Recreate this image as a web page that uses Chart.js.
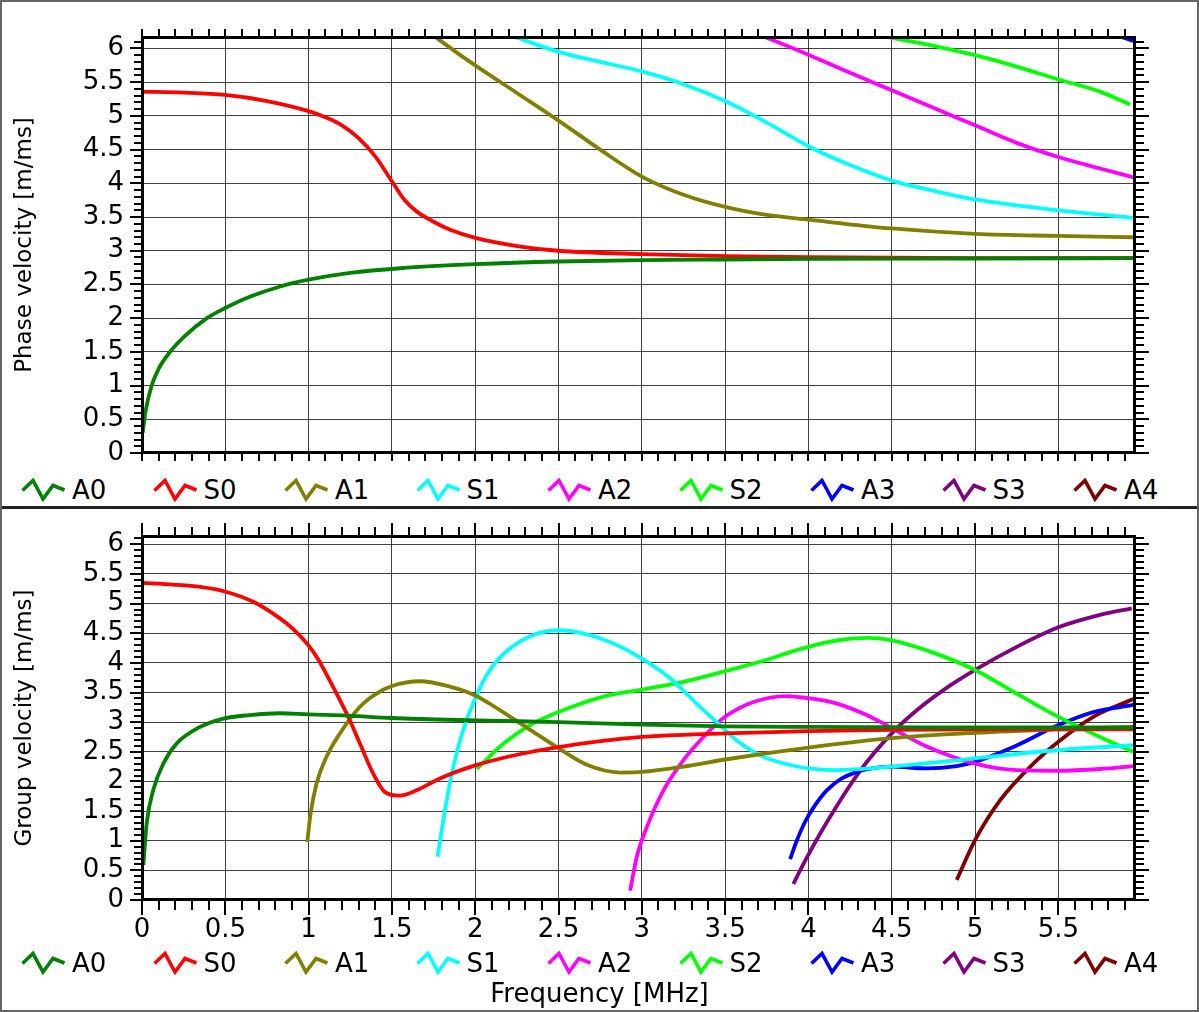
<!DOCTYPE html>
<html>
<head>
<meta charset="utf-8">
<title>Dispersion curves</title>
<script src="https://cdn.jsdelivr.net/npm/chart.js@4.4.1/dist/chart.umd.min.js"></script>
<style>
  html, body { margin: 0; padding: 0; background: #fff; }
  #page {
    position: relative; width: 1199px; height: 1012px; box-sizing: border-box;
    border: 2px solid #666; overflow: hidden; background: #fff;
    font-family: "DejaVu Sans", sans-serif; color: #000;
  }
  canvas { position: absolute; left: 0; display: block; }
  #phaseChart { top: 0; }
  #groupChart { top: 507px; }
  #divider { position: absolute; left: 0; top: 504px; width: 1195px; height: 3px; background: #222; }
  .legend {
    position: absolute; left: 0; width: 1195px; height: 30px; box-sizing: border-box;
    padding-left: 19px; display: flex; align-items: center;
  }
  .legend .item { flex: none; width: 131.5px; display: flex; align-items: center; font-size: 26px; line-height: 30px; }
  .legend svg { flex: none; margin-right: 6px; }
  #phaseLegend { top: 473px; }
  #groupLegend { top: 946px; }
  #freqTitle {
    position: absolute; left: 0; top: 976px; width: 1195px; height: 30px;
    line-height: 30px; text-align: center; font-size: 26px;
  }
</style>
</head>
<body>
<div id="page">
  <canvas id="phaseChart" width="1195" height="470"></canvas>
  <div class="legend" id="phaseLegend"></div>
  <div id="divider"></div>
  <canvas id="groupChart" width="1195" height="440"></canvas>
  <div class="legend" id="groupLegend"></div>
  <div id="freqTitle">Frequency [MHz]</div>
</div>
<script>
// Lamb wave modes and their colours
const modes = ['A0', 'S0', 'A1', 'S1', 'A2', 'S2', 'A3', 'S3', 'A4'];
const modeColors = ['#008000', '#ff0000', '#808000', '#00ffff', '#ff00ff', '#00ff00', '#0000ff', '#800080', '#800000'];

// Axis ranges and labelled ticks
const freqMax = 5.96;
const phaseMax = 6.17;
const groupMax = 6.14;
const freqLabels = ['0', '0.5', '1', '1.5', '2', '2.5', '3', '3.5', '4', '4.5', '5', '5.5'];
const velocityLabels = ['0', '0.5', '1', '1.5', '2', '2.5', '3', '3.5', '4', '4.5', '5', '5.5', '6'];

// Phase velocity [m/ms] versus frequency [MHz]
const phaseA0 = [[0.004, 0.30], [0.02, 0.60], [0.058, 1.0], [0.1, 1.25], [0.168, 1.5], [0.25, 1.72], [0.39, 2.0], [0.5, 2.15], [0.65, 2.32], [0.83, 2.47], [1.0, 2.57], [1.25, 2.67], [1.55, 2.74], [2.0, 2.80], [2.5, 2.84], [3.0, 2.86], [3.5, 2.87], [4.0, 2.88], [5.0, 2.885], [5.96, 2.89]];
const phaseS0 = [[0, 5.36], [0.25, 5.345], [0.5, 5.31], [0.75, 5.22], [1.0, 5.07], [1.1, 4.98], [1.2, 4.86], [1.3, 4.67], [1.4, 4.40], [1.5, 4.03], [1.58, 3.74], [1.65, 3.58], [1.75, 3.43], [1.85, 3.31], [2.0, 3.19], [2.25, 3.07], [2.5, 3.0], [3.0, 2.95], [3.5, 2.92], [4.0, 2.905], [5.0, 2.89], [5.96, 2.89]];
const phaseA1 = [[1.76, 6.17], [1.9, 5.92], [2.0, 5.75], [2.25, 5.34], [2.5, 4.93], [2.75, 4.5], [3.0, 4.1], [3.25, 3.83], [3.5, 3.65], [3.75, 3.53], [4.0, 3.46], [4.5, 3.33], [5.0, 3.25], [5.5, 3.22], [5.95, 3.2]];
const phaseS1 = [[2.24, 6.17], [2.5, 5.95], [2.75, 5.8], [3.0, 5.66], [3.25, 5.47], [3.5, 5.22], [3.75, 4.9], [4.0, 4.55], [4.25, 4.27], [4.5, 4.04], [4.75, 3.89], [5.0, 3.76], [5.5, 3.6], [5.95, 3.49]];
const phaseA2 = [[3.74, 6.17], [3.95, 5.96], [4.25, 5.64], [4.5, 5.38], [4.75, 5.12], [5.0, 4.86], [5.25, 4.6], [5.5, 4.39], [5.75, 4.22], [5.95, 4.09]];
const phaseS2 = [[4.47, 6.17], [4.75, 6.04], [5.0, 5.9], [5.25, 5.73], [5.5, 5.54], [5.75, 5.36], [5.93, 5.17]];
const phaseA3 = [[5.88, 6.17], [5.95, 6.11]];

// Group velocity [m/ms] versus frequency [MHz]
const groupA0 = [[0.008, 0.59], [0.028, 1.29], [0.068, 1.86], [0.128, 2.30], [0.208, 2.64], [0.328, 2.89], [0.488, 3.06], [0.648, 3.12], [0.828, 3.15], [1.0, 3.13], [1.23, 3.11], [1.5, 3.07], [2.0, 3.03], [2.5, 3.0], [3.0, 2.96], [3.5, 2.93], [4.0, 2.92], [4.5, 2.915], [5.0, 2.91], [5.5, 2.91], [5.95, 2.91]];
const groupS0 = [[0, 5.35], [0.188, 5.32], [0.35, 5.28], [0.502, 5.2], [0.668, 5.03], [0.828, 4.75], [0.908, 4.57], [0.998, 4.3], [1.06, 4.05], [1.108, 3.8], [1.188, 3.37], [1.238, 3.09], [1.308, 2.64], [1.388, 2.13], [1.458, 1.82], [1.548, 1.76], [1.648, 1.85], [1.788, 2.05], [2.0, 2.27], [2.25, 2.45], [2.5, 2.58], [3.0, 2.75], [3.5, 2.81], [4.0, 2.85], [4.5, 2.87], [5.0, 2.88], [5.95, 2.88]];
const groupA1 = [[0.992, 0.98], [1.012, 1.46], [1.048, 1.97], [1.108, 2.42], [1.188, 2.81], [1.308, 3.26], [1.4, 3.47], [1.5, 3.61], [1.668, 3.69], [1.848, 3.6], [2.0, 3.45], [2.15, 3.2], [2.33, 2.87], [2.5, 2.56], [2.67, 2.28], [2.87, 2.15], [3.0, 2.16], [3.25, 2.25], [3.5, 2.37], [4.0, 2.57], [4.5, 2.73], [5.0, 2.82], [5.5, 2.88], [5.95, 2.92]];
const groupS1 = [[1.774, 0.73], [1.8, 1.2], [1.85, 2.0], [1.9, 2.6], [1.95, 3.05], [2.0, 3.4], [2.07, 3.8], [2.17, 4.15], [2.33, 4.45], [2.5, 4.55], [2.67, 4.48], [2.85, 4.3], [3.0, 4.07], [3.17, 3.74], [3.33, 3.31], [3.45, 3.0], [3.57, 2.69], [3.71, 2.44], [3.87, 2.29], [4.0, 2.22], [4.15, 2.19], [4.5, 2.25], [5.0, 2.39], [5.5, 2.53], [5.95, 2.61]];
const groupA2 = [[2.93, 0.16], [2.97, 0.73], [3.03, 1.23], [3.13, 1.85], [3.25, 2.36], [3.37, 2.75], [3.5, 3.09], [3.67, 3.34], [3.87, 3.44], [3.95, 3.42], [4.15, 3.33], [4.35, 3.12], [4.5, 2.9], [4.71, 2.59], [5.0, 2.3], [5.25, 2.19], [5.5, 2.18], [5.75, 2.21], [5.95, 2.26]];
const groupS2 = [[2.01, 2.21], [2.17, 2.64], [2.33, 2.95], [2.5, 3.17], [2.77, 3.43], [3.0, 3.55], [3.25, 3.68], [3.5, 3.86], [3.77, 4.07], [3.9, 4.19], [4.0, 4.27], [4.1, 4.34], [4.2, 4.39], [4.35, 4.42], [4.5, 4.38], [4.71, 4.21], [5.0, 3.88], [5.25, 3.48], [5.5, 3.09], [5.75, 2.75], [5.95, 2.5]];
const groupA3 = [[3.89, 0.69], [3.93, 1.0], [3.98, 1.32], [4.04, 1.6], [4.11, 1.85], [4.2, 2.05], [4.3, 2.17], [4.4, 2.23], [4.5, 2.25], [4.71, 2.22], [4.89, 2.26], [5.0, 2.33], [5.23, 2.58], [5.5, 2.95], [5.71, 3.17], [5.95, 3.29]];
const groupS3 = [[3.91, 0.27], [3.95, 0.5], [4.11, 1.31], [4.31, 2.18], [4.5, 2.81], [4.65, 3.2], [4.81, 3.54], [5.0, 3.88], [5.25, 4.27], [5.5, 4.6], [5.75, 4.81], [5.94, 4.92]];
const groupA4 = [[4.89, 0.34], [5.0, 1.01], [5.15, 1.68], [5.35, 2.3], [5.5, 2.67], [5.71, 3.09], [5.95, 3.39]];

const phaseCurves = { A0: phaseA0, S0: phaseS0, A1: phaseA1, S1: phaseS1, A2: phaseA2, S2: phaseS2, A3: phaseA3 };
const groupCurves = { A0: groupA0, S0: groupS0, A1: groupA1, S1: groupS1, A2: groupA2, S2: groupS2, A3: groupA3, S3: groupS3, A4: groupA4 };

const FONT = '"DejaVu Sans", sans-serif';
Chart.defaults.font.family = FONT;
Chart.defaults.color = '#000';

const isHalf = v => Math.abs(v * 2 - Math.round(v * 2)) < 1e-6;
const gridColor = 'rgba(0,0,0,0.75)';

function buildDatasets(curves) {
  return modes.filter(m => curves[m]).map(m => ({
    label: m,
    data: curves[m].map(([f, v]) => ({ x: f, y: v })),
    borderColor: modeColors[modes.indexOf(m)],
    borderWidth: 3.8,
    pointRadius: 0,
    fill: false,
    cubicInterpolationMode: 'monotone'
  }));
}

// Outward tick marks on all four sides (minor every 0.1, major every 0.5) and the plot frame
const frameTicks = {
  id: 'frameTicks',
  afterDatasetsDraw(chart, _args, opts) {
    const { ctx, chartArea: a } = chart;
    const xs = chart.scales.x, ys = chart.scales.y;
    ctx.save();
    ctx.strokeStyle = '#000';
    ctx.lineWidth = 2;
    ctx.beginPath();
    xs.ticks.forEach(t => {
      const p = Math.round(xs.getPixelForValue(t.value));
      const m = isHalf(t.value) ? 1 : 0;
      ctx.moveTo(p, a.top); ctx.lineTo(p, a.top - opts.top[m]);
      ctx.moveTo(p, a.bottom); ctx.lineTo(p, a.bottom + opts.bottom[m]);
    });
    ys.ticks.forEach(t => {
      const p = Math.round(ys.getPixelForValue(t.value));
      const m = isHalf(t.value) ? 1 : 0;
      ctx.moveTo(a.left, p); ctx.lineTo(a.left - opts.left[m], p);
      ctx.moveTo(a.right, p); ctx.lineTo(a.right + opts.right[m], p);
    });
    ctx.stroke();
    ctx.lineWidth = 3;
    ctx.strokeRect(a.left + 0.5, a.top + 0.5, a.right - a.left - 1, a.bottom - a.top - 1);
    ctx.restore();
  }
};

function makeChart(canvasId, curves, opt) {
  return new Chart(document.getElementById(canvasId), {
    type: 'line',
    data: { datasets: buildDatasets(curves) },
    plugins: [frameTicks],
    options: {
      responsive: false,
      devicePixelRatio: 1,
      animation: false,
      events: [],
      layout: { autoPadding: false, padding: { top: opt.padTop, right: 62, left: 0, bottom: 0 } },
      plugins: {
        legend: { display: false },
        tooltip: { enabled: false },
        frameTicks: opt.ticks
      },
      scales: {
        x: {
          type: 'linear', min: 0, max: freqMax,
          afterFit: s => { s.height = opt.xHeight; s.paddingLeft = 0; s.paddingRight = 0; },
          border: { display: false },
          grid: {
            drawTicks: false, lineWidth: 1,
            color: c => (c.tick && isHalf(c.tick.value)) ? gridColor : 'rgba(0,0,0,0)'
          },
          ticks: {
            display: opt.xLabels, stepSize: 0.1, includeBounds: false, autoSkip: false,
            maxRotation: 0, minRotation: 0, maxTicksLimit: 1000, padding: 15,
            font: { family: FONT, size: 26 }, color: '#000',
            callback: v => isHalf(v) ? (freqLabels[Math.round(v * 2)] ?? '') : ''
          }
        },
        y: {
          type: 'linear', min: 0, max: opt.yMax,
          afterFit: s => { s.width = 140; s.paddingTop = 0; s.paddingBottom = 0; },
          border: { display: false },
          grid: {
            drawTicks: false, lineWidth: 1,
            color: c => (c.tick && isHalf(c.tick.value)) ? gridColor : 'rgba(0,0,0,0)'
          },
          title: {
            display: true, text: opt.yTitle, color: '#000',
            font: { family: FONT, size: 23 }, padding: { top: 9, bottom: 0 }
          },
          ticks: {
            stepSize: 0.1, includeBounds: false, autoSkip: false, maxTicksLimit: 1000, padding: 18,
            font: { family: FONT, size: 26 }, color: '#000',
            callback: v => isHalf(v) ? (velocityLabels[Math.round(v * 2)] ?? '') : ''
          }
        }
      }
    }
  });
}

const phaseChart = makeChart('phaseChart', phaseCurves, {
  padTop: 35, xHeight: 19, yMax: phaseMax, xLabels: false,
  yTitle: 'Phase velocity [m/ms]',
  ticks: { top: [8, 8], bottom: [8, 8], left: [8, 12], right: [9, 14] }
});
const groupChart = makeChart('groupChart', groupCurves, {
  padTop: 27, xHeight: 49, yMax: groupMax, xLabels: true,
  yTitle: 'Group velocity [m/ms]',
  ticks: { top: [9, 13], bottom: [10, 15], left: [8, 12], right: [9, 14] }
});

// Legend rows listing every mode with its zigzag line sample
function fillLegend(id) {
  const box = document.getElementById(id);
  modes.forEach((m, i) => {
    const item = document.createElement('span');
    item.className = 'item';
    item.innerHTML =
      '<svg width="45" height="24" viewBox="0 0 45 24">' +
      '<polyline points="1.5,12.5 12,2.5 22,21 32,7.5 43.5,12" fill="none" stroke="' + modeColors[i] +
      '" stroke-width="3.6" stroke-linejoin="miter" stroke-linecap="butt"/></svg>' +
      '<span>' + m + '</span>';
    box.appendChild(item);
  });
}
fillLegend('phaseLegend');
fillLegend('groupLegend');
</script>
</body>
</html>
